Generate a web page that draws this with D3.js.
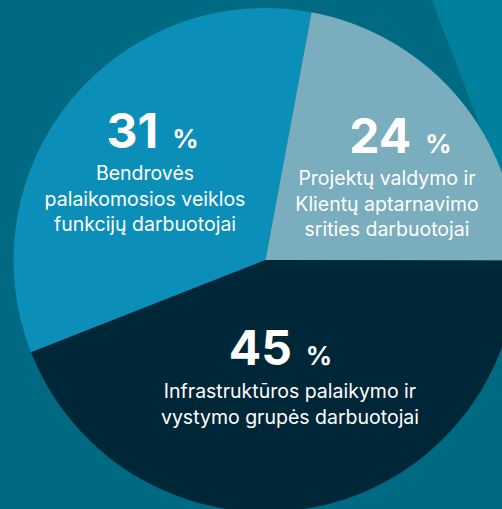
<!DOCTYPE html>
<html>
<head>
<meta charset="utf-8">
<script src="https://cdn.jsdelivr.net/npm/d3@7"></script>
<style>
  html, body { margin: 0; padding: 0; background: #006a83; }
  svg { display: block; }
</style>
</head>
<body>
<div id="plot"></div>
<script>
// data
const groups = ["support", "projects", "infrastructure"];
const percents = [31, 24, 45];            // printed labels
const drawnShares = [33.9, 22.1, 44.0];   // slice sizes as they are drawn
const labelLines = [
	["Bendrovės", "palaikomosios veiklos", "funkcijų darbuotojai"],
	["Projektų valdymo ir", "Klientų aptarnavimo", "srities darbuotojai"],
	["Infrastruktūros palaikymo ir", "vystymo grupės darbuotojai"]
];

const colors = ["#0b8fb9", "#7aadbe", "#002737"];
// label spots relative to pie center: number center, text center, first baseline
const spots = [
	{nx: -113, ny: -112, lx: -120.5, ly: -80},
	{nx: 135, ny: -107, lx: 121.5, ly: -75},
	{nx: 15, ny: 105, lx: 24.5, ly: 138}
];

const width = 502, height = 509;
const cx = 265.5, cy = 260, radius = 252;

const svg = d3.select("#plot")
	.append("svg")
		.attr("width", width)
		.attr("height", height);

// background
svg.append("rect")
	.attr("width", width)
	.attr("height", height)
	.attr("fill", "#006a83");
svg.append("path")
	.attr("d", "M432,0 L" + width + ",0 L" + width + ",190 L502,184 Z")
	.attr("fill", "#00809d");

const start = -111.5 * Math.PI / 180;
const pie = d3.pie()
	.sort(null)
	.startAngle(start)
	.endAngle(start + 2 * Math.PI)
	.value(function(d, i) { return drawnShares[i]; });

const arc = d3.arc().innerRadius(0).outerRadius(radius);

const g = svg.append("g")
	.attr("transform", "translate(" + cx + "," + cy + ")");

g.selectAll("path")
	.data(pie(groups))
	.enter()
	.append("path")
		.attr("d", arc)
		.attr("fill", function(d, i) { return colors[i]; });

const font = "Inter, 'Open Sans', sans-serif";

groups.forEach(function(k, i) {
	const s = spots[i];
	const num = g.append("text")
		.attr("x", s.nx)
		.attr("y", s.ny)
		.attr("text-anchor", "middle")
		.attr("fill", "#ffffff")
		.style("font-family", font)
		.style("font-weight", 700);
	num.append("tspan")
		.style("font-size", "48px")
		.text(percents[i]);
	num.append("tspan")
		.attr("dx", 14)
		.style("font-size", "26px")
		.text("%");

	g.append("text")
		.attr("text-anchor", "middle")
		.attr("fill", "#ffffff")
		.style("font-family", font)
		.style("font-size", "19.5px")
		.selectAll("tspan")
		.data(labelLines[i])
		.enter()
		.append("tspan")
			.attr("x", s.lx)
			.attr("y", function(d, j) { return s.ly + j * 25.5; })
			.text(function(d) { return d; });
});
</script>
</body>
</html>
